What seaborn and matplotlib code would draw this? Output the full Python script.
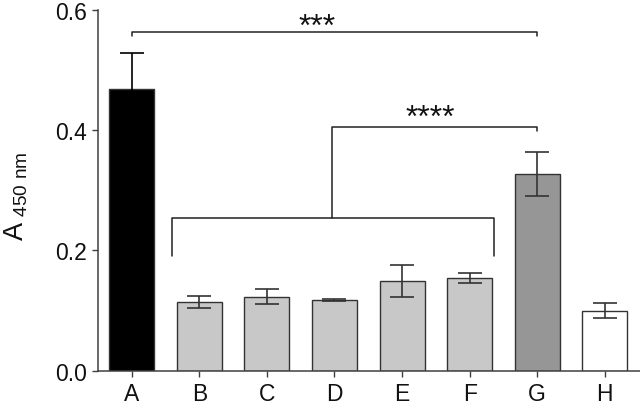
import matplotlib
matplotlib.use("Agg")
import matplotlib.pyplot as plt
import seaborn as sns
import numpy as np
import pandas as pd

categories = ["A", "B", "C", "D", "E", "F", "G", "H"]
means = [0.469, 0.114, 0.123, 0.117, 0.149, 0.154, 0.327, 0.100]
errors = [0.059, 0.010, 0.012, 0.0015, 0.026, 0.0087, 0.037, 0.012]
bar_colors = ["#000000", "#c8c8c8", "#c8c8c8", "#c8c8c8", "#c8c8c8", "#c8c8c8", "#969696", "#ffffff"]
yticks = [0.0, 0.2, 0.4, 0.6]
ytick_labels = ["0.0", "0.2", "0.4", "0.6"]

sns.set_theme(style="ticks")
plt.rcParams["font.family"] = ["Liberation Sans", "DejaVu Sans"]
plt.rcParams["mathtext.fontset"] = "custom"
plt.rcParams["mathtext.rm"] = "Liberation Sans"

df = pd.DataFrame({"group": categories, "value": means})

fig = plt.figure(figsize=(6.4, 4.1), dpi=100)
ax = fig.add_axes([0.1527, 0.0934, 0.8473, 0.8805])

sns.barplot(data=df, x="group", y="value", hue="group", palette=bar_colors,
            legend=False, errorbar=None, width=0.667, edgecolor="#333333",
            linewidth=1.0, saturation=1, ax=ax)

xpos = np.arange(len(categories))
ax.errorbar(xpos[:1], means[:1], yerr=errors[:1], fmt="none",
            ecolor="#000000", elinewidth=1.2, capsize=8.5, capthick=1.2, zorder=5)
ax.errorbar(xpos[1:], means[1:], yerr=errors[1:], fmt="none",
            ecolor="#333333", elinewidth=1.2, capsize=8.5, capthick=1.2, zorder=5)

ax.set_ylim(0, 0.6)
ax.set_xlim(-0.503, 7.52)
ax.set_yticks(yticks)
ax.set_yticklabels(ytick_labels)
ax.tick_params(axis="both", labelsize=16.5, length=4, width=1.0, color="#404040",
               labelcolor="#111111", pad=4)
for s in ["top", "right"]:
    ax.spines[s].set_visible(False)
for s in ["left", "bottom"]:
    ax.spines[s].set_color("#404040")
    ax.spines[s].set_linewidth(1.1)

ax.set_xlabel("")
ax.set_ylabel(r"A$_{\mathregular{\ 450\ nm}}$", fontsize=19.5, color="#111111")
ax.yaxis.set_label_coords(-0.125, 0.487)

lc = "#222222"
lw = 1.1
# top bracket A - G
ax.plot([0, 0, 6, 6], [0.556, 0.563, 0.563, 0.556], color=lc, lw=lw, clip_on=False)
ax.text(2.74, 0.558, "***", ha="center", va="baseline", fontsize=23, color="#111111")
# lower bracket B-F
ax.plot([0.59, 0.59, 5.36, 5.36], [0.191, 0.2544, 0.2544, 0.191], color=lc, lw=lw)
# second bracket
ax.plot([2.97, 2.97, 6, 6], [0.2544, 0.405, 0.405, 0.3985], color=lc, lw=lw)
ax.text(4.42, 0.407, "****", ha="center", va="baseline", fontsize=23, color="#111111")

fig.savefig("out.png", dpi=100)
